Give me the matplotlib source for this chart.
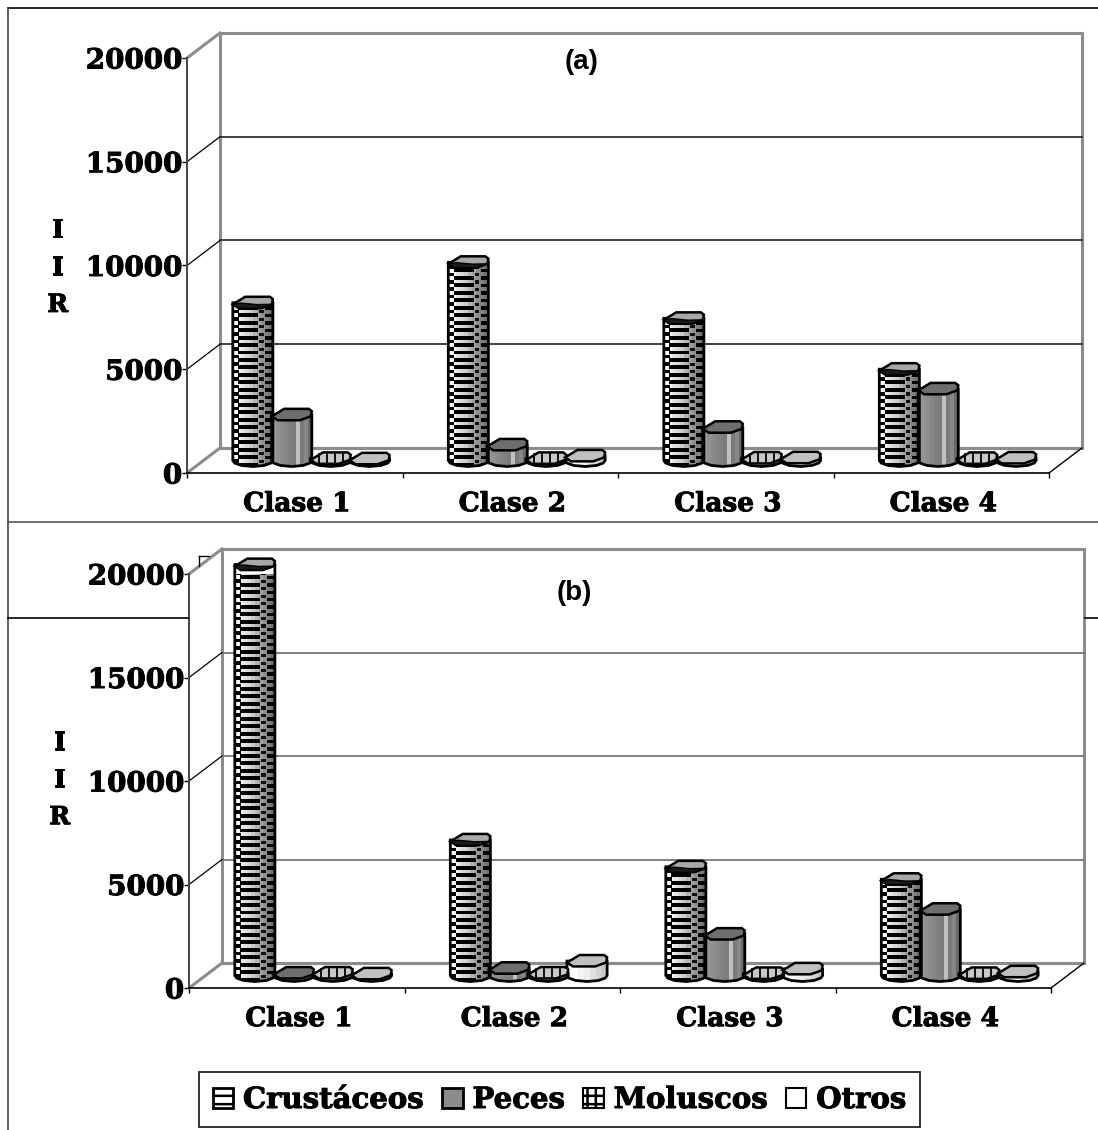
import numpy as np
import matplotlib
matplotlib.use("Agg")
import matplotlib.pyplot as plt
import matplotlib.patheffects as pe
from matplotlib.lines import Line2D
from matplotlib.patches import Patch, Polygon, Rectangle

W, H = 1098, 1130
SERIF = "DejaVu Serif"
plt.rcParams["hatch.linewidth"] = 1.8

categories = ["Clase 1", "Clase 2", "Clase 3", "Clase 4"]
series = ["Crustáceos", "Peces", "Moluscos", "Otros"]
y_ticks = [0, 5000, 10000, 15000, 20000]

crustaceos_a = [7600, 9550, 6850, 4400]
peces_a = [2200, 750, 1600, 3450]
moluscos_a = [100, 100, 120, 100]
otros_a = [80, 220, 130, 120]

crustaceos_b = [19850, 6550, 5250, 4650]
peces_b = [120, 350, 2000, 3200]
moluscos_b = [120, 120, 100, 100]
otros_b = [80, 700, 320, 180]

DX = 33 / 216     # depth of the 3d box, in category units
DY = 25 / 415 * 20000
RX = 0.093        # bar radius
RY = 290
GREY = "#8c8c8c"
BOLD = [pe.withStroke(linewidth=0.7, foreground="black")]

# irregular outline of the bar tops, the old renderer made them like this
TOP_X = np.array([-1, -0.6, -0.38, 0.85, 1, 0.95, 0.4, -0.7])
TOP_Y = np.array([-0.25, 0.55, 1, 1, 0.6, -0.25, -0.9, -0.9])
RIM_X = np.array([-1, -0.6, 0.2, 0.95, 0.4, -0.7])
RIM_Y = np.array([-0.25, -0.05, -0.3, -0.25, -0.9, -0.9])


def px_line(fig, x0, y0, x1, y1, color="black", lw=1.2):
    fig.add_artist(Line2D([x0 / W, x1 / W], [1 - y0 / H, 1 - y1 / H],
                          color=color, lw=lw, transform=fig.transFigure))


def body_outline(cx, base, top):
    t = np.radians([180, 205, 235, 270, 305, 335, 360])
    low = np.c_[cx + RX * np.cos(t), base + RY * np.sin(t)]
    return np.vstack([low, [[cx + RX, top], [cx - RX, top]]])


def clipped_rect(ax, clip, x, y, w, h, color, zorder=6):
    r = Rectangle((x, y), w, h, fc=color, ec="none", zorder=zorder)
    ax.add_patch(r)
    r.set_clip_path(clip)


def gradient(ax, cx, base, top, clip, colors):
    edges = np.linspace(cx - RX, cx + RX, len(colors) + 1)
    for i, c in enumerate(colors):
        clipped_rect(ax, clip, edges[i], base - RY, edges[i + 1] - edges[i],
                     top - base + 2 * RY, c, zorder=5)


def draw_bar(ax, cx, value, kind):
    base = DY / 2
    top = base + value
    outline = Polygon(body_outline(cx, base, top), closed=True, fc="white", ec="none",
                      zorder=4, clip_on=False)
    ax.add_patch(outline)
    rim = None
    if kind == "Crustáceos":
        gradient(ax, cx, base, top, outline,
                 ["#ffffff", "#f4f4f4", "#e4e4e4", "#d8d8d8", "#cccccc", "#b4b4b4",
                  "#a0a0a0", "#909090", "#808080", "#707070"])
        for s in np.arange(base - RY, top, 360):
            clipped_rect(ax, outline, cx - RX * 0.72, s, RX * 1.0, 190, "black")
            clipped_rect(ax, outline, cx - RX, s + 180, RX * 0.3, 170, "black")
            clipped_rect(ax, outline, cx + RX * 0.32, s + 180, RX * 0.22, 150, "#111111")
            clipped_rect(ax, outline, cx + RX * 0.62, s, RX * 0.38, 170, "black")
        top_fc = "#a8a8a8"
        rim = "#1a1a1a"
    elif kind == "Peces":
        gradient(ax, cx, base, top, outline,
                 ["#9a9a9a", "#929292", "#8c8c8c", "#868686", "#808080", "#7c7c7c",
                  "#c0c0c0", "#7a7a7a", "#888888", "#6a6a6a"])
        top_fc = "#6e6e6e"
    elif kind == "Moluscos":
        gradient(ax, cx, base, top, outline,
                 ["#dddddd", "#cccccc", "#bbbbbb", "#bbbbbb", "#aaaaaa", "#999999"])
        top_fc = "#c8c8c8"
    else:
        gradient(ax, cx, base, top, outline,
                 ["#ffffff", "#ffffff", "#f4f4f4", "#eeeeee", "#e2e2e2", "#d4d4d4", "#c8c8c8"])
        top_fc = "#c0c0c0"
    ax.add_patch(Polygon(body_outline(cx, base, top), closed=True, fc="none", ec="black",
                         lw=2, zorder=8, clip_on=False))
    ax.add_patch(Polygon(np.c_[cx + RX * TOP_X, top + RY * TOP_Y], closed=True, fc=top_fc,
                         ec="black", lw=1.8, zorder=9, clip_on=False))
    if rim:
        ax.add_patch(Polygon(np.c_[cx + RX * RIM_X, top + RY * RIM_Y], closed=True, fc=rim,
                             ec="black", lw=1, zorder=10, clip_on=False))
    if kind == "Moluscos":
        for off in [-0.6, -0.2, 0.2, 0.6]:
            ax.plot([cx + off * RX] * 2, [top - RY * 0.8, top + RY * 0.7], color="black",
                    lw=1.3, zorder=10, clip_on=False)


def draw_panel(fig, left, top, bottom, data, tag, tag_x, tag_y, grid_color, iir_y):
    right = left + 862
    ax = fig.add_axes([left / W, 1 - bottom / H, (right - left) / W, (bottom - top) / H])
    ax.set_xlim(0, 4)
    ax.set_ylim(0, 20000)
    ax.patch.set_alpha(0)
    for sp in ax.spines.values():
        sp.set_visible(False)
    ax.spines["bottom"].set_visible(True)
    ax.spines["left"].set_visible(True)
    ax.spines["left"].set_color("#444444")
    ax.spines["left"].set_linewidth(1.4)
    ax.spines["bottom"].set_linewidth(1.2)

    # back wall of the 3d box
    ax.add_patch(Rectangle((DX, DY), 4, 20000, fc="white", ec=GREY, lw=2.2, clip_on=False, zorder=1))
    kw = dict(clip_on=False, zorder=2)
    for v in y_ticks[1:-1]:
        ax.plot([DX, 4 + DX], [v + DY, v + DY], color=grid_color, lw=1.3, **kw)
        ax.plot([0, DX], [v, v + DY], color="black", lw=0.9, **kw)
    ax.plot([DX, 4 + DX], [DY, DY], color=GREY, lw=2.2, **kw)
    ax.plot([0, DX], [20000, 20000 + DY], color=GREY, lw=2.2, **kw)
    ax.plot([0, DX], [0, DY], color=GREY, lw=2.2, **kw)
    ax.plot([4, 4 + DX], [0, DY], color="black", lw=1, **kw)

    ax.set_yticks(y_ticks)
    ax.set_yticklabels([str(v) for v in y_ticks], family=SERIF, fontweight="bold", fontsize=20,
                       path_effects=BOLD)
    ax.set_xticks(range(5))
    ax.set_xticklabels([])
    ax.tick_params(axis="both", length=3.5, width=1, pad=0)
    for i, c in enumerate(categories):
        ax.text(i + 0.51, -1480, c, family=SERIF, fontweight="bold", fontsize=19,
                ha="center", va="center", clip_on=False, path_effects=BOLD)

    step = 39 / 216
    for i in range(4):
        for j, name in enumerate(series):
            draw_bar(ax, i + 0.5 + DX / 2 + (j - 1.5) * step, data[name][i], name)

    ax.text(tag_x, tag_y, tag, family="Liberation Sans", fontweight="bold", fontsize=20,
            ha="center", va="center", zorder=11)
    for k, ch in enumerate("IIR"):
        ax.text(-0.6, iir_y - k * 1800, ch, family=SERIF, fontweight="bold", fontsize=18,
                ha="center", va="center", clip_on=False, path_effects=BOLD)
    return ax


fig = plt.figure(figsize=(W / 100, H / 100), dpi=100)

# outer frames left over from the pasted charts
px_line(fig, 8, 8, 1098, 8)
px_line(fig, 8, 8, 8, 1130, color="#444444")
px_line(fig, 8, 522, 1098, 522, color="#555555")
px_line(fig, 8, 618, 188, 618)
px_line(fig, 1085, 618, 1098, 618)
px_line(fig, 199, 556, 199, 566, lw=1)
px_line(fig, 199, 556, 209, 556, lw=1)

draw_panel(fig, 187, 58, 473,
           {"Crustáceos": crustaceos_a, "Peces": peces_a, "Moluscos": moluscos_a, "Otros": otros_a},
           "(a)", 1.83, 19800, "#333333", 11700)
draw_panel(fig, 189, 574, 988,
           {"Crustáceos": crustaceos_b, "Peces": peces_b, "Moluscos": moluscos_b, "Otros": otros_b},
           "(b)", 1.787, 19080, "#777777", 11850)

handles = [Patch(fc="white", ec="black", hatch="--", lw=2),
           Patch(fc="#8c8c8c", ec="black", lw=2),
           Patch(fc="white", ec="black", hatch="++", lw=1.5),
           Patch(fc="white", ec="black", lw=1.5)]
leg = fig.legend(handles, series, ncol=4, loc="center", bbox_to_anchor=(559.5 / W, 1 - 1099.5 / H),
                 frameon=True, fancybox=False, edgecolor="#222222", framealpha=1,
                 prop={"family": SERIF, "weight": "bold", "size": 21},
                 handlelength=0.7, handleheight=0.7, handletextpad=0.34, columnspacing=0.62,
                 borderpad=0.45, borderaxespad=0)
leg.get_frame().set_linewidth(1.3)
for t in leg.get_texts():
    t.set_path_effects(BOLD)

fig.savefig("out.png", dpi=100)
